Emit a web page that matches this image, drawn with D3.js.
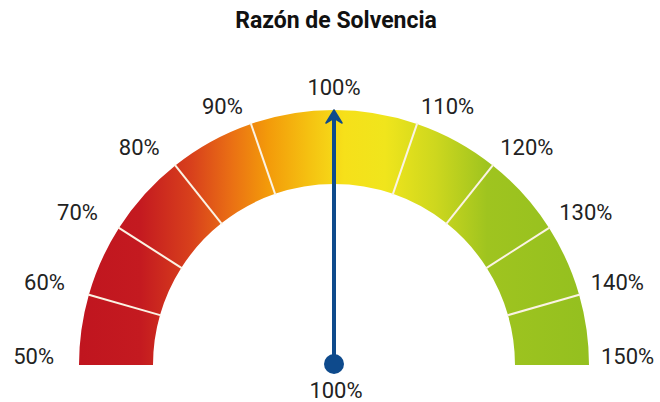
<!DOCTYPE html>
<html>
<head>
<meta charset="utf-8">
<script src="https://cdn.jsdelivr.net/npm/d3@7"></script>
<style>
  body { margin: 0; background: #fff; overflow: hidden; }
  text { font-family: Roboto, "Noto Sans", sans-serif; }
</style>
</head>
<body>
<div id="gauge"></div>
<script>
// chart data
var title = "Razón de Solvencia";
var tickValues = [50, 60, 70, 80, 90, 100, 110, 120, 130, 140, 150];
var tickLabels = ["50%", "60%", "70%", "80%", "90%", "100%", "110%", "120%", "130%", "140%", "150%"];
var currentValue = 100;
var currentLabel = "100%";

// dimensions
var width = 660, height = 402;
var cx = 334, cy = 365;
var outerR = 255, innerR = 181;

var svg = d3.select("#gauge")
  .append("svg")
    .attr("width", width)
    .attr("height", height)
    .style("display", "block");

// value -> angle (degrees from the left horizontal), segments are a bit narrower near the base
var angle = d3.scaleLinear()
  .domain(tickValues)
  .range([0, 16, 32.5, 51.5, 71, 90, 109, 128.5, 147.5, 164, 180]);

function toRad(deg) { return (deg - 90) * Math.PI / 180; }

// horizontal colour gradient
var defs = svg.append("defs");
var grad = defs.append("linearGradient")
    .attr("id", "band")
    .attr("gradientUnits", "userSpaceOnUse")
    .attr("x1", -outerR).attr("x2", outerR)
    .attr("y1", 0).attr("y2", 0);
var stops = [
  [0, "#c0151f"], [0.12, "#c41a20"], [0.22, "#d8401c"], [0.3, "#ea7014"],
  [0.37, "#f39a0a"], [0.45, "#f5c111"], [0.52, "#f6e01a"], [0.6, "#f0e51c"],
  [0.7, "#cdd71e"], [0.8, "#9fc41f"], [1, "#94c01f"]
];
grad.selectAll("stop")
  .data(stops)
  .enter()
  .append("stop")
    .attr("offset", function(d) { return d[0]; })
    .attr("stop-color", function(d) { return d[1]; });

var g = svg.append("g")
  .attr("transform", "translate(" + cx + "," + cy + ")");

// segments
var segments = d3.pairs(tickValues);
var arc = d3.arc()
  .innerRadius(innerR)
  .outerRadius(outerR)
  .startAngle(function(d) { return toRad(angle(d[0])); })
  .endAngle(function(d) { return toRad(angle(d[1])); });

g.selectAll("path.seg")
  .data(segments)
  .enter()
  .append("path")
    .attr("class", "seg")
    .attr("d", arc)
    .attr("fill", "url(#band)");

// separators
g.selectAll("line.sep")
  .data(tickValues.slice(1, -1))
  .enter()
  .append("line")
    .attr("class", "sep")
    .attr("x1", function(d) { return -Math.cos(angle(d) * Math.PI / 180) * (innerR - 1); })
    .attr("y1", function(d) { return -Math.sin(angle(d) * Math.PI / 180) * (innerR - 1); })
    .attr("x2", function(d) { return -Math.cos(angle(d) * Math.PI / 180) * (outerR + 1); })
    .attr("y2", function(d) { return -Math.sin(angle(d) * Math.PI / 180) * (outerR + 1); })
    .attr("stroke", "#fbf3e4")
    .attr("stroke-width", 2);

// tick labels (left ones sit a little further out than the right ones)
g.selectAll("text.tick")
  .data(tickValues)
  .enter()
  .append("text")
    .attr("class", "tick")
    .attr("x", function(d) {
      var a = angle(d);
      var r = a < 90 ? 280 : 267;
      return -Math.cos(a * Math.PI / 180) * r;
    })
    .attr("y", function(d) {
      var a = angle(d);
      var s = Math.sin(a * Math.PI / 180);
      var top = Math.abs(a - 90) < 1 ? 0 : 5 * Math.pow(s, 4);
      return -269 * s - 9 + top;
    })
    .attr("dy", "0.36em")
    .attr("text-anchor", function(d) {
      var a = angle(d);
      return a < 80 ? "end" : (a > 100 ? "start" : "middle");
    })
    .attr("fill", "#222")
    .style("font-size", "22px")
    .text(function(d, i) { return tickLabels[i]; });

// needle
var tipR = outerR;
var needle = g.append("g")
  .attr("transform", "rotate(" + (angle(currentValue) - 90) + ")");
needle.append("line")
  .attr("x1", 0).attr("y1", -1)
  .attr("x2", 0).attr("y2", -(tipR - 6))
  .attr("stroke", "#0e4a8c")
  .attr("stroke-width", 4);
needle.append("path")
  .attr("d", "M0," + (-tipR) + " L8," + (-tipR + 13) + " L0," + (-tipR + 8) + " L-8," + (-tipR + 13) + " Z")
  .attr("fill", "#0e4a8c")
  .attr("stroke", "#0e4a8c")
  .attr("stroke-width", 1.5)
  .attr("stroke-linejoin", "round");
g.append("circle")
  .attr("cx", 0).attr("cy", -1)
  .attr("r", 10)
  .attr("fill", "#0e4a8c");

// value label
g.append("text")
  .attr("x", 2)
  .attr("y", 25)
  .attr("dy", "0.36em")
  .attr("text-anchor", "middle")
  .attr("fill", "#222")
  .style("font-size", "22px")
  .text(currentLabel);

// title
svg.append("text")
  .attr("x", 336)
  .attr("y", 28)
  .attr("text-anchor", "middle")
  .attr("fill", "#111")
  .style("font-size", "23px")
  .style("font-weight", "bold")
  .text(title);
</script>
</body>
</html>
